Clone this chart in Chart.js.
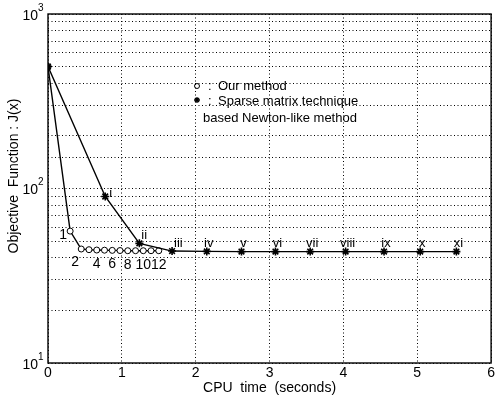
<!DOCTYPE html>
<html>
<head>
<meta charset="utf-8">
<script src="https://cdn.jsdelivr.net/npm/chart.js@4.4.1/dist/chart.umd.min.js"></script>
<style>
body { margin: 0; background: #fff; }
</style>
</head>
<body>
<canvas id="myChart" width="497" height="400"></canvas>
<script>
// values
var ourTime = [0, 0.30, 0.45, 0.555, 0.66, 0.765, 0.87, 0.975, 1.08, 1.185, 1.29, 1.395, 1.50];
var ourJ = [500, 57, 45, 44.6, 44.4, 44.3, 44.2, 44.1, 44, 44, 44, 44, 44];
var ourLabels = ['', '1', '2', '', '4', '', '6', '', '8', '', '10', '', '12'];

var sparseTime = [0, 0.775, 1.237, 1.68, 2.15, 2.62, 3.08, 3.55, 4.03, 4.55, 5.04, 5.53];
var sparseJ = [500, 90, 48.5, 43.8, 43.6, 43.5, 43.5, 43.5, 43.5, 43.5, 43.5, 43.5];
var sparseLabels = ['', 'i', 'ii', 'iii', 'iv', 'v', 'vi', 'vii', 'viii', 'ix', 'x', 'xi'];

var xTicks = [0, 1, 2, 3, 4, 5, 6];
var yDecades = [10, 100, 1000];
var yExponents = ['1', '2', '3'];

var legendText = ['Our method', 'Sparse matrix technique', 'based Newton-like method'];
var xTitle = 'CPU  time  (seconds)';
var yTitle = 'Objective  Function : J(x)';

var FONT = "'Liberation Sans', Arial, sans-serif";

function toPoints(xs, ys) {
    var pts = [];
    xs.forEach(function (x, i) { pts.push({ x: x, y: ys[i] }); });
    return pts;
}

// frame, titles, y labels with superscript, point labels, legend text
var decorations = {
    id: 'decorations',
    afterDatasetsDraw: function (chart) {
        var ctx = chart.ctx;
        var a = chart.chartArea;
        var ys = chart.scales.y;
        ctx.save();

        ctx.strokeStyle = '#000';
        ctx.lineWidth = 1.4;
        ctx.strokeRect(a.left, a.top, a.right - a.left, a.bottom - a.top);

        ctx.fillStyle = '#000';

        // y tick labels 10^n
        yDecades.forEach(function (v, i) {
            var py = ys.getPixelForValue(v);
            ctx.font = '14px ' + FONT;
            ctx.textAlign = 'right';
            ctx.textBaseline = 'middle';
            ctx.fillText('10', a.left - 10, py + 2);
            ctx.font = '10px ' + FONT;
            ctx.textAlign = 'left';
            ctx.fillText(yExponents[i], a.left - 10, py - 6);
        });

        // axis titles
        ctx.font = '14px ' + FONT;
        ctx.textAlign = 'center';
        ctx.textBaseline = 'middle';
        ctx.fillText(xTitle, (a.left + a.right) / 2, 388);
        ctx.save();
        ctx.translate(14, 176);
        ctx.rotate(-Math.PI / 2);
        ctx.fillText(yTitle, 0, 0);
        ctx.restore();

        // iteration labels, our method
        ctx.font = '14px ' + FONT;
        var m0 = chart.getDatasetMeta(0).data;
        ourLabels.forEach(function (t, i) {
            if (!t) return;
            var p = m0[i];
            if (i == 1) {
                ctx.textAlign = 'right';
                ctx.fillText(t, p.x - 3, p.y + 4);
            } else if (i == 2) {
                ctx.textAlign = 'center';
                ctx.fillText(t, p.x - 6, p.y + 13);
            } else {
                ctx.textAlign = 'center';
                ctx.fillText(t, p.x, p.y + 14);
            }
        });

        // iteration labels, sparse method
        ctx.font = '13px ' + FONT;
        var m1 = chart.getDatasetMeta(1).data;
        sparseLabels.forEach(function (t, i) {
            if (!t) return;
            var p = m1[i];
            if (i == 1) {
                ctx.textAlign = 'left';
                ctx.fillText(t, p.x + 4, p.y - 3);
            } else if (i <= 3) {
                ctx.textAlign = 'left';
                ctx.fillText(t, p.x + 2, p.y - 8);
            } else {
                ctx.textAlign = 'center';
                ctx.fillText(t, p.x + 2, p.y - 8);
            }
        });

        // legend
        var lx = 197, ly = 86;
        ctx.lineWidth = 1;
        ctx.beginPath();
        ctx.arc(lx, ly, 2.5, 0, Math.PI * 2);
        ctx.stroke();
        ctx.lineWidth = 1.3;
        ctx.beginPath();
        for (var k = 0; k < 4; k++) {
            var ang = k * Math.PI / 4;
            ctx.moveTo(lx - 3 * Math.cos(ang), ly + 14 - 3 * Math.sin(ang));
            ctx.lineTo(lx + 3 * Math.cos(ang), ly + 14 + 3 * Math.sin(ang));
        }
        ctx.stroke();
        ctx.font = '13px ' + FONT;
        ctx.textAlign = 'left';
        ctx.fillText(':', 208, ly);
        ctx.fillText(':', 208, ly + 15);
        ctx.fillText(legendText[0], 218, ly);
        ctx.fillText(legendText[1], 218, ly + 15);
        ctx.fillText(legendText[2], 203, ly + 32);

        ctx.restore();
    }
};

const data = {
    datasets: [{
        label: 'Our method',
        data: toPoints(ourTime, ourJ),
        order: 1,
        borderColor: '#000',
        borderWidth: 1.4,
        pointStyle: 'circle',
        pointRadius: 3,
        pointBorderWidth: 1,
        pointBackgroundColor: '#fff',
        pointBorderColor: '#000'
    }, {
        label: 'Sparse matrix technique based Newton-like method',
        data: toPoints(sparseTime, sparseJ),
        order: 0,
        borderColor: '#000',
        borderWidth: 1.4,
        pointStyle: 'star',
        pointRadius: 4,
        pointBorderWidth: 1.6,
        pointBackgroundColor: '#000',
        pointBorderColor: '#000'
    }]
};

const config = {
    type: 'line',
    data: data,
    options: {
        responsive: false,
        animation: false,
        layout: { padding: { top: 14, right: 4, left: 0, bottom: 0 } },
        scales: {
            x: {
                type: 'linear',
                min: 0,
                max: 6,
                afterBuildTicks: function (scale) {
                    scale.ticks = xTicks.map(function (v) { return { value: v }; });
                },
                afterFit: function (scale) { scale.height = 37; },
                ticks: {
                    color: '#000',
                    padding: 2,
                    font: { family: FONT, size: 14 }
                },
                grid: { color: '#000', lineWidth: 1, drawTicks: false },
                border: { display: false, dash: [1, 2.5] }
            },
            y: {
                type: 'logarithmic',
                min: 10,
                max: 1000,
                afterFit: function (scale) { scale.width = 48; },
                ticks: {
                    callback: function () { return ''; }
                },
                grid: { color: '#000', lineWidth: 1, drawTicks: false },
                border: { display: false, dash: [1, 2.5] }
            }
        },
        plugins: {
            legend: { display: false },
            tooltip: { enabled: false }
        }
    },
    plugins: [decorations]
};

const myChart = new Chart(document.getElementById('myChart'), config);
</script>
</body>
</html>
